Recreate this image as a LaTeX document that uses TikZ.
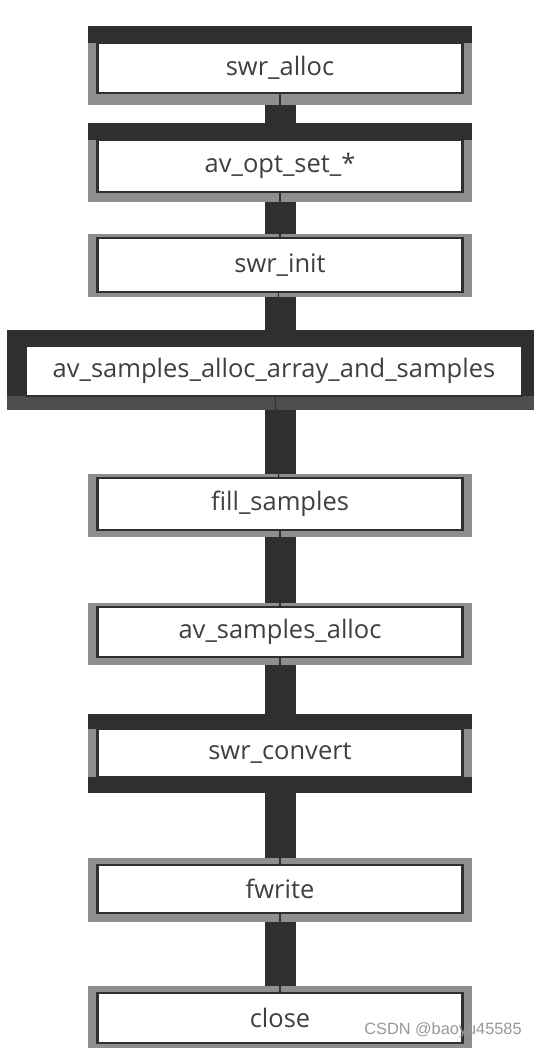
\documentclass[tikz,border=0pt]{standalone}
\usepackage{fontspec}
\setmainfont{Open Sans}
\newfontfamily\wmfont{Liberation Sans}
\usepackage{tikz}

\definecolor{bardark}{HTML}{2F2F2F}
\definecolor{rimgray}{HTML}{8E8E8E}
\definecolor{inkgray}{HTML}{3F3F3F}

\tikzset{
 rim/.style={fill=rimgray, inner sep=0pt, minimum width=7.68cm},
 stepbox/.style={draw=bardark, line width=1.4pt, fill=white, inner sep=0pt,
   minimum width=7.3cm, text=inkgray, font=\fontsize{14.5}{16}\selectfont},
 link/.style={bardark, line width=0.62cm},
 tick/.style={bardark, line width=0.6pt}
}

\begin{document}
\begin{tikzpicture}[x=0.02cm, y=-0.02cm]
 \useasboundingbox (0,0) rectangle (534,1048);

 % frames
 \node[rim, minimum height=1.58cm] (allocF) at (280,65.5) {};
 \fill[bardark] (88,26) rectangle (472,43);
 \node[rim, minimum height=1.58cm] (optF) at (280,162.5) {};
 \fill[bardark] (88,123) rectangle (472,140);
 \node[rim, minimum height=1.26cm] (initF) at (280,265.5) {};
 \node[rim, fill=bardark, minimum width=10.68cm, minimum height=1.6cm] (arrayF) at (274,370) {};
 \fill[bardark!85!white] (7,396) rectangle (541,410);
 \node[rim, minimum height=1.26cm] (fillF) at (280,505.5) {};
 \node[rim, minimum height=1.24cm] (sallocF) at (280,634) {};
 \node[rim, minimum height=1.58cm] (convF) at (280,753.5) {};
 \fill[bardark] (88,714) rectangle (472,729);
 \fill[bardark] (88,777) rectangle (472,793);
 \node[rim, minimum height=1.28cm] (writeF) at (280,890) {};
 \node[rim, minimum height=1.28cm] (closeF) at (280,1018) {};

 % steps
 \node[stepbox, minimum height=1.0cm] (alloc) at (280,68) {swr\_alloc};
 \node[stepbox, minimum height=1.04cm] (opt) at (280,166) {av\_opt\_set\_*};
 \node[stepbox, minimum height=1.08cm] (init) at (280,265) {swr\_init};
 \node[stepbox, minimum width=9.92cm, minimum height=1.0cm] (array) at (274,371) {av\_samples\_alloc\_array\_and\_samples};
 \node[stepbox, minimum height=1.04cm] (fill) at (280,504) {fill\_samples};
 \node[stepbox, minimum height=1.0cm] (salloc) at (280,632) {av\_samples\_alloc};
 \node[stepbox, minimum height=0.96cm] (conv) at (280,753) {swr\_convert};
 \node[stepbox, minimum height=0.96cm] (write) at (280,889) {fwrite};
 \node[stepbox, minimum height=1.0cm] (close) at (280,1018) {close};

 % connectors
 \draw[tick] (alloc) -- (opt);
 \draw[tick] (opt) -- (init);
 \draw[tick] (init) -- (array);
 \draw[tick] (array) -- (fill);
 \draw[tick] (fill) -- (salloc);
 \draw[tick] (salloc) -- (conv);
 \draw[tick] (conv) -- (write);
 \draw[tick] (write) -- (close);
 \draw[link] (allocF.south) -- (optF.north);
 \draw[link] (optF.south) -- (initF.north);
 \draw[link] (initF.south) -- (initF.south |- arrayF.north);
 \draw[link] (initF.south |- arrayF.south) -- (fillF.north);
 \draw[link] (fillF.south) -- (sallocF.north);
 \draw[link] (sallocF.south) -- (convF.north);
 \draw[link] (convF.south) -- (writeF.north);
 \draw[link] (writeF.south) -- (closeF.north);

 \node[text=gray!80, font=\wmfont\fontsize{9.3}{11}\selectfont] (wm) at (443,1030) {CSDN @baoyu45585};
\end{tikzpicture}
\end{document}
